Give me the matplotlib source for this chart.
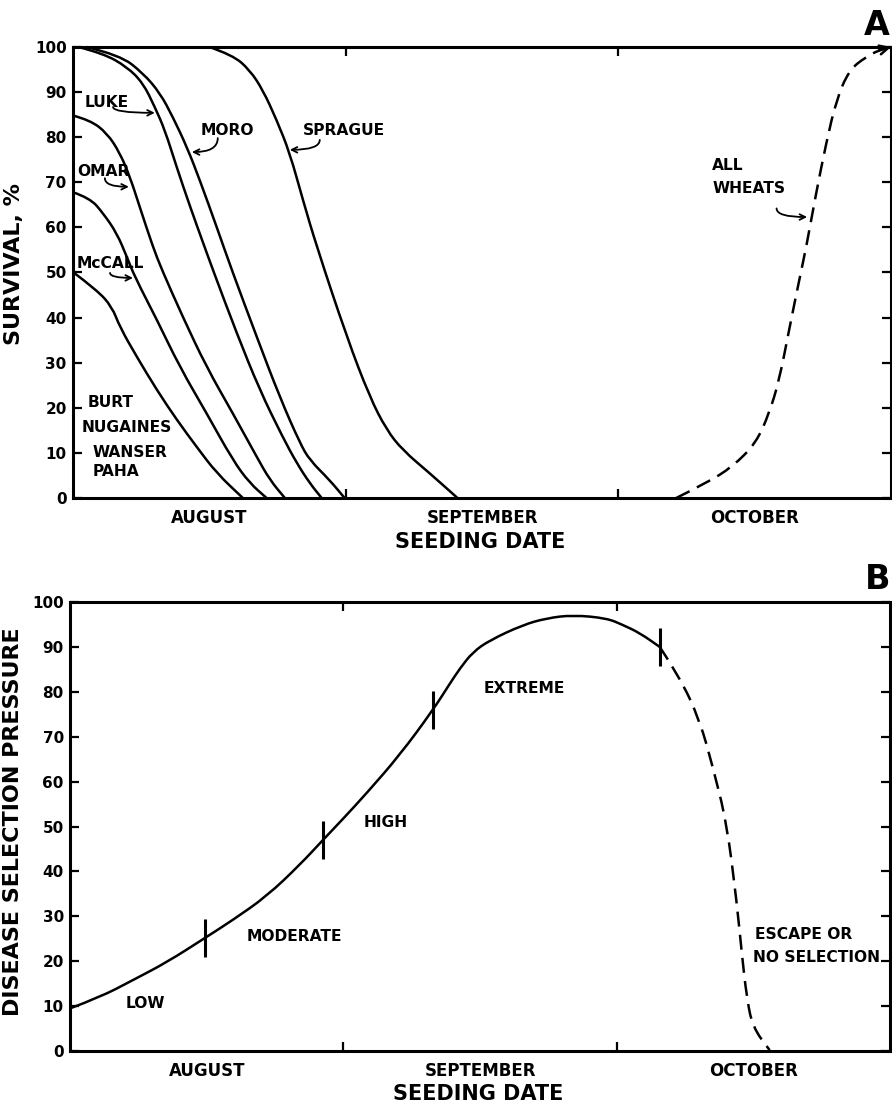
import matplotlib
matplotlib.use('Agg')
import matplotlib.pyplot as plt
from matplotlib.path import Path
from matplotlib.patches import PathPatch

plt.rcParams['font.family'] = ['DejaVu Sans']
plt.rcParams['font.weight'] = 'bold'
plt.rcParams['axes.labelweight'] = 'bold'

# x in months after 1 August (0 = start of August, 3 = end of October)
months = ['AUGUST', 'SEPTEMBER', 'OCTOBER']

# panel A: survival curves
burt_x = [0.0, 0.088, 0.143, 0.172, 0.234, 0.308, 0.381, 0.454, 0.527, 0.623]
burt_y = [50.1, 46.1, 42.4, 37.9, 31.3, 23.9, 17.3, 11.3, 5.5, 0.0]

mccall_x = [0.0, 0.062, 0.11, 0.161, 0.198, 0.227, 0.308, 0.392, 0.49, 0.586, 0.648, 0.71]
mccall_y = [67.8, 66.5, 63.2, 58.7, 53.4, 49.0, 39.5, 29.0, 18.8, 8.4, 3.3, 0.0]

omar_x = [0.0, 0.062, 0.125, 0.172, 0.209, 0.245, 0.293, 0.326, 0.403, 0.49, 0.586, 0.674, 0.722, 0.777]
omar_y = [84.8, 83.8, 80.9, 76.5, 71.2, 64.5, 55.7, 50.6, 40.1, 29.0, 18.8, 9.1, 4.0, 0.0]

luke_x = [0.02, 0.11, 0.198, 0.257, 0.30, 0.337, 0.38, 0.43, 0.477, 0.513, 0.6, 0.685, 0.769, 0.82, 0.868, 0.912]
luke_y = [100.0, 98.6, 95.6, 92.0, 86.7, 81.6, 73.4, 64.5, 56.6, 50.6, 36.6, 23.9, 13.5, 7.8, 3.3, 0.0]

moro_x = [0.05, 0.172, 0.257, 0.319, 0.366, 0.418, 0.465, 0.527, 0.582, 0.674, 0.758, 0.832, 0.868, 0.941, 0.996]
moro_y = [100.0, 98.2, 94.2, 89.8, 84.5, 77.8, 70.5, 60.1, 50.6, 35.7, 22.4, 12.2, 8.4, 4.0, 0.0]

sprague_x = [0.50, 0.586, 0.648, 0.696, 0.747, 0.795, 0.843, 0.894, 1.004, 1.088, 1.15, 1.209, 1.308, 1.41]
sprague_y = [100.0, 98.2, 94.9, 90.5, 83.8, 76.5, 66.1, 55.7, 35.7, 22.4, 15.1, 10.6, 5.5, 0.0]

wheats_x = [2.212, 2.322, 2.418, 2.505, 2.553, 2.59, 2.626, 2.663, 2.689, 2.725, 2.762, 2.799, 2.846, 2.908, 2.956, 3.0]
wheats_y = [0.0, 3.3, 6.9, 12.2, 18.8, 26.2, 37.3, 48.3, 55.7, 67.6, 78.7, 88.2, 94.9, 97.8, 99.3, 100.0]

# panel B: disease selection pressure
press_x = [0.0, 0.11, 0.23, 0.355, 0.494, 0.596, 0.72, 0.841, 0.925, 1.0, 1.086, 1.207, 1.327,
           1.389, 1.426, 1.474, 1.536, 1.656, 1.744, 1.839, 1.963, 2.022, 2.084, 2.157]
press_y = [9.5, 12.0, 15.8, 19.8, 25.2, 29.2, 34.5, 41.5, 47.0, 51.8, 57.5, 66.0, 75.9,
           81.8, 85.2, 88.9, 91.5, 94.9, 96.4, 97.1, 96.4, 94.9, 93.1, 90.0]
escape_x = [2.157, 2.23, 2.303, 2.351, 2.402, 2.439, 2.457, 2.475, 2.497, 2.559]
escape_y = [90.0, 83.3, 73.7, 63.3, 50.8, 33.0, 21.8, 12.0, 5.3, 0.2]
bound_x = [0.494, 0.925, 1.327, 2.157]
bound_y = [25.2, 47.0, 75.9, 90.0]

LW = 1.8
fig = plt.figure(figsize=(8.92, 11.03), dpi=100)
axA = fig.add_axes([0.0818, 0.5485, 0.9172, 0.4089])
axB = fig.add_axes([0.0785, 0.0471, 0.9195, 0.4071])


def smooth(ax, xs, ys, dashed=False):
    # quadratic bezier through the midpoints, using the read points as controls
    verts = [(xs[0], ys[0])]
    codes = [Path.MOVETO]
    for i in range(1, len(xs) - 1):
        verts += [(xs[i], ys[i]), ((xs[i] + xs[i + 1]) / 2, (ys[i] + ys[i + 1]) / 2)]
        codes += [Path.CURVE3, Path.CURVE3]
    verts.append((xs[-1], ys[-1]))
    codes.append(Path.LINETO)
    ls = (0, (6, 3.3)) if dashed else '-'
    ax.add_patch(PathPatch(Path(verts, codes), fill=False, lw=LW, ls=ls,
                           edgecolor='black', clip_on=False, capstyle='butt'))


def style(ax, ylabel):
    ax.set_xlim(0, 3)
    ax.set_ylim(0, 100)
    ax.set_yticks(range(0, 101, 10))
    ax.set_xticks([1, 2])
    ax.set_xticklabels([])
    ax.set_xticks([0.5, 1.5, 2.5], minor=True)
    ax.set_xticklabels(months, minor=True, fontsize=12)
    ax.tick_params(which='major', direction='in', top=True, right=True,
                   length=6.5, width=1.6, labelsize=11, pad=4.5)
    ax.tick_params(axis='x', which='minor', length=0, pad=8)
    for s in ax.spines.values():
        s.set_linewidth(2.2)
    ax.set_ylabel(ylabel, fontsize=16)
    ax.set_xlabel('SEEDING DATE', fontsize=15)
    ax.xaxis.label.set_verticalalignment('center')


style(axA, 'SURVIVAL, %')
axA.yaxis.set_label_coords(-0.060, 0.519)
axA.xaxis.set_label_coords(0.4976, -0.0976)

for xs, ys in [(burt_x, burt_y), (mccall_x, mccall_y), (omar_x, omar_y),
               (luke_x, luke_y), (moro_x, moro_y), (sprague_x, sprague_y)]:
    smooth(axA, xs, ys)
smooth(axA, wheats_x, wheats_y, dashed=True)
# arrow head at the top end of the dashed curve
axA.annotate('', xy=(wheats_x[-1], wheats_y[-1]), xytext=(wheats_x[-2], wheats_y[-2]),
             arrowprops=dict(arrowstyle='->', lw=LW, color='black', mutation_scale=16,
                             shrinkA=0, shrinkB=0),
             annotation_clip=False)

fs = 11.2
arrow = dict(arrowstyle='->', lw=1.3, color='black', shrinkA=0, shrinkB=0,
             connectionstyle='angle3,angleA=-90,angleB=0')
axA.text(0.044, 87.8, 'LUKE', fontsize=fs, va='center')
axA.annotate('', xy=(0.30, 85.4), xytext=(0.147, 86.7), arrowprops=arrow)
axA.text(0.566, 81.4, 'MORO', fontsize=fs, va='center', ha='center')
axA.annotate('', xy=(0.436, 76.7), xytext=(0.531, 79.8), arrowprops=arrow)
axA.text(0.993, 81.4, 'SPRAGUE', fontsize=fs, va='center', ha='center')
axA.annotate('', xy=(0.795, 77.2), xytext=(0.905, 79.4), arrowprops=arrow)
axA.text(0.015, 72.5, 'OMAR', fontsize=fs, va='center')
axA.annotate('', xy=(0.205, 69.0), xytext=(0.117, 70.9), arrowprops=arrow)
axA.text(0.015, 52.1, 'McCALL', fontsize=fs, va='center')
axA.annotate('', xy=(0.22, 48.8), xytext=(0.136, 49.9), arrowprops=arrow)
axA.text(2.344, 73.8, 'ALL', fontsize=fs, va='center')
axA.text(2.344, 68.7, 'WHEATS', fontsize=fs, va='center')
axA.annotate('', xy=(2.692, 62.3), xytext=(2.58, 64.2), arrowprops=arrow)
for lab, x, y in [('BURT', 0.055, 21.1), ('NUGAINES', 0.033, 15.7),
                  ('WANSER', 0.073, 10.2), ('PAHA', 0.073, 5.8)]:
    axA.text(x, y, lab, fontsize=fs, va='center')

style(axB, 'DISEASE SELECTION PRESSURE')
axB.yaxis.set_label_coords(-0.057, 0.51)
axB.xaxis.set_label_coords(0.4976, -0.096)
smooth(axB, press_x, press_y)
smooth(axB, escape_x, escape_y, dashed=True)
axB.plot(bound_x, bound_y, ls='none', marker='|', ms=28, mew=2.2, color='black')
for lab, x, y in [('LOW', 0.274, 10.7), ('MODERATE', 0.819, 25.6),
                  ('HIGH', 1.155, 51.0), ('EXTREME', 1.66, 80.8)]:
    axB.text(x, y, lab, fontsize=fs, va='center', ha='center')
axB.text(2.504, 26.0, 'ESCAPE OR', fontsize=fs, va='center')
axB.text(2.497, 20.9, 'NO SELECTION', fontsize=fs, va='center')

fig.text(0.998, 0.977, 'A', fontsize=24, fontweight='bold', ha='right', va='center')
fig.text(0.998, 0.475, 'B', fontsize=24, fontweight='bold', ha='right', va='center')

fig.savefig('out.png', dpi=100)
